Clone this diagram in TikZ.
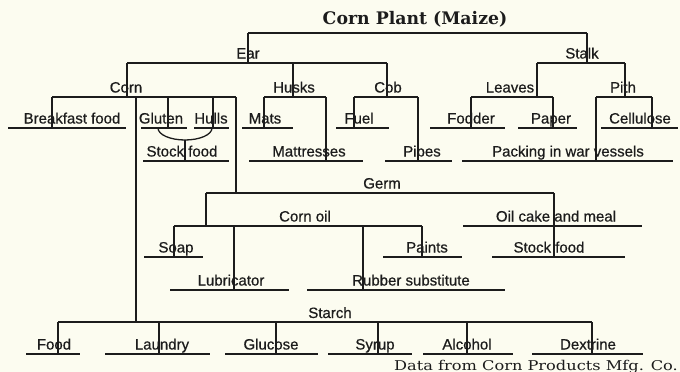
\documentclass[tikz,border=0pt]{standalone}
\usepackage{fontspec}
\usepackage{tikz}
\newfontfamily\labfont[FakeBold=0.6]{Liberation Sans}
\newfontfamily\headfont{DejaVu Serif}
\newfontfamily\notefont[FakeStretch=1.2]{DejaVu Serif}
\definecolor{paper}{RGB}{252,252,240}
\definecolor{ink}{RGB}{28,28,28}

\begin{document}
\begin{tikzpicture}[x=1pt, y=-1pt,
  lab/.style={anchor=base, inner sep=0pt, text=ink,
              font=\labfont\fontsize{15}{17}\selectfont},
  head/.style={anchor=base, inner sep=0pt, text=ink,
               font=\headfont\bfseries\fontsize{17.3}{20}\selectfont},
  bar/.style={fill=ink, minimum width=#1pt, minimum height=1.8pt, inner sep=0pt},
  stem/.style={draw=ink, line width=1.3pt}
]
\fill[paper] (0,0) rectangle (680,372);
\useasboundingbox (0,0) rectangle (680,372);
% Top: the plant
\node[head] (plant) at (415,24.5) {Corn Plant (Maize)};
\node[bar=339] (plantbar) at (417.5,33) {};
% Ear and stalk
\node[lab] (ear)   at (248,58.5) {Ear};
\node[bar=260] (earbar) at (257,63) {};
\node[lab] (stalk) at (582,58.5) {Stalk};
\node[bar=88] (stalkbar) at (581,63) {};
\draw[stem] (plantbar -| 248,0) -- (earbar -| 248,0);
\draw[stem] (plantbar -| 587,0) -- (stalkbar -| 587,0);
% Parts of the ear and of the stalk
\node[lab] (corn)   at (126,92.5) {Corn};
\node[bar=184] (cornbar) at (144,97) {};
\node[lab] (husks)  at (294,92.5) {Husks};
\node[bar=62] (husksbar) at (295,97) {};
\node[lab] (cob)    at (388,92.5) {Cob};
\node[bar=64] (cobbar) at (386,97) {};
\node[lab] (leaves) at (510,92.5) {Leaves};
\node[bar=82] (leavesbar) at (512,97) {};
\node[lab] (pith)   at (623,92.5) {Pith};
\node[bar=56] (pithbar) at (624,97) {};
\draw[stem] (earbar -| 127,0) -- (cornbar -| 127,0);
\draw[stem] (earbar -| 293,0) -- (husksbar -| 293,0);
\draw[stem] (earbar -| 387,0) -- (cobbar -| 387,0);
\draw[stem] (stalkbar -| 537,0) -- (leavesbar -| 537,0);
\draw[stem] (stalkbar -| 625,0) -- (pithbar -| 625,0);
% First row of products
\node[lab] (breakfast) at (72,123.5) {Breakfast food};
\node[bar=118] (breakfastbar) at (67,128) {};
\node[lab] (gluten)    at (161,123.5) {Gluten};
\node[bar=46] (glutenbar) at (164,128) {};
\node[lab] (hulls)     at (211,123.5) {Hulls};
\node[bar=35] (hullsbar) at (211.5,128) {};
\node[lab] (mats)      at (265,123.5) {Mats};
\node[bar=51] (matsbar) at (267.5,128) {};
\node[lab] (fuel)      at (359,123.5) {Fuel};
\node[bar=53] (fuelbar) at (362.5,128) {};
\node[lab] (fodder)    at (471,123.5) {Fodder};
\node[bar=75] (fodderbar) at (467.5,128) {};
\node[lab] (paper)     at (551,123.5) {Paper};
\node[bar=59] (paperbar) at (547.5,128) {};
\node[lab] (cellulose) at (640,123.5) {Cellulose};
\node[bar=77] (cellulosebar) at (639.5,128) {};
\draw[stem] (cornbar -| 52,0) -- (breakfastbar -| 52,0);
\draw[stem] (cornbar -| 168,0) -- (glutenbar -| 168,0);
\draw[stem] (cornbar -| 213,0) -- (hullsbar -| 213,0);
\draw[stem] (husksbar -| 264,0) -- (matsbar -| 264,0);
\draw[stem] (cobbar -| 354,0) -- (fuelbar -| 354,0);
\draw[stem] (leavesbar -| 471,0) -- (fodderbar -| 471,0);
\draw[stem] (leavesbar -| 553,0) -- (paperbar -| 553,0);
\draw[stem] (pithbar -| 652,0) -- (cellulosebar -| 652,0);
% Second row of products
\node[lab] (stockfood) at (182,156.5) {Stock food};
\node[bar=86] (stockfoodbar) at (186,161) {};
\node[lab] (mattresses) at (309,156.5) {Mattresses};
\node[bar=114] (mattressesbar) at (306,161) {};
\node[lab] (pipes)     at (422,156.5) {Pipes};
\node[bar=67] (pipesbar) at (418.5,161) {};
\node[lab] (packing)   at (568,156.5) {Packing in war vessels};
\node[bar=211] (packingbar) at (567.5,161) {};
\draw[stem] (glutenbar -| 158,0) arc[start angle=180, end angle=90, x radius=27, y radius=12]
  coordinate (gh) arc[start angle=90, end angle=0, x radius=27, y radius=12];
\draw[stem] (gh) -- (gh |- stockfoodbar);
\draw[stem] (husksbar -| 326,0) -- (mattressesbar -| 326,0);
\draw[stem] (cobbar -| 418,0) -- (pipesbar -| 418,0);
\draw[stem] (pithbar -| 596,0) -- (packingbar -| 596,0);
% Germ
\node[lab] (germ)    at (382,188.5) {Germ};
\node[bar=348] (germbar) at (380,193) {};
\draw[stem] (cornbar -| 236,0) -- (germbar -| 236,0);
\node[lab] (cornoil) at (305,221.5) {Corn oil};
\node[bar=248] (cornoilbar) at (298,226) {};
\node[lab] (oilcake) at (556,221.5) {Oil cake and meal};
\node[bar=179] (oilcakebar) at (552.5,226) {};
\draw[stem] (germbar -| 206,0) -- (cornoilbar -| 206,0);
\draw[stem] (germbar -| 554,0) -- (oilcakebar -| 554,0);
\node[lab] (soap)    at (176,252.5) {Soap};
\node[bar=59] (soapbar) at (173.5,257) {};
\node[lab] (paints)  at (427,252.5) {Paints};
\node[bar=79] (paintsbar) at (422.5,257) {};
\node[lab] (stockfood2) at (549,252.5) {Stock food};
\node[bar=133] (stockfood2bar) at (558.5,257) {};
\node[lab] (lubricator) at (231,285.5) {Lubricator};
\node[bar=119] (lubricatorbar) at (229.5,290) {};
\node[lab] (rubber)  at (411,285.5) {Rubber substitute};
\node[bar=198] (rubberbar) at (406,290) {};
\draw[stem] (cornoilbar -| 174,0) -- (soapbar -| 174,0);
\draw[stem] (cornoilbar -| 422,0) -- (paintsbar -| 422,0);
\draw[stem] (cornoilbar -| 234,0) -- (lubricatorbar -| 234,0);
\draw[stem] (cornoilbar -| 363,0) -- (rubberbar -| 363,0);
\draw[stem] (oilcakebar -| 554,0) -- (stockfood2bar -| 554,0);
% Starch
\node[lab] (starch)  at (330,318) {Starch};
\node[bar=534] (starchbar) at (325,322) {};
\draw[stem] (cornbar -| 136,0) -- (starchbar -| 136,0);
\node[lab] (food)     at (54,349.5) {Food};
\node[bar=54] (foodbar) at (53,354) {};
\node[lab] (laundry)  at (162,349.5) {Laundry};
\node[bar=105] (laundrybar) at (157.5,354) {};
\node[lab] (glucose)  at (271,349.5) {Glucose};
\node[bar=93] (glucosebar) at (271.5,354) {};
\node[lab] (syrup)    at (375,349.5) {Syrup};
\node[bar=84] (syrupbar) at (370,354) {};
\node[lab] (alcohol)  at (467,349.5) {Alcohol};
\node[bar=90] (alcoholbar) at (468,354) {};
\node[lab] (dextrine) at (588,349.5) {Dextrine};
\node[bar=111] (dextrinebar) at (587.5,354) {};
\draw[stem] (starchbar -| 58,0) -- (foodbar -| 58,0);
\draw[stem] (starchbar -| 159,0) -- (laundrybar -| 159,0);
\draw[stem] (starchbar -| 276,0) -- (glucosebar -| 276,0);
\draw[stem] (starchbar -| 378,0) -- (syrupbar -| 378,0);
\draw[stem] (starchbar -| 467,0) -- (alcoholbar -| 467,0);
\draw[stem] (starchbar -| 592,0) -- (dextrinebar -| 592,0);
% Source
\node[anchor=base, inner sep=0pt, text=ink, font=\notefont\fontsize{13.5}{16}\selectfont]
  (source) at (536,370) {Data from Corn Products Mfg. Co.};
\end{tikzpicture}
\end{document}
